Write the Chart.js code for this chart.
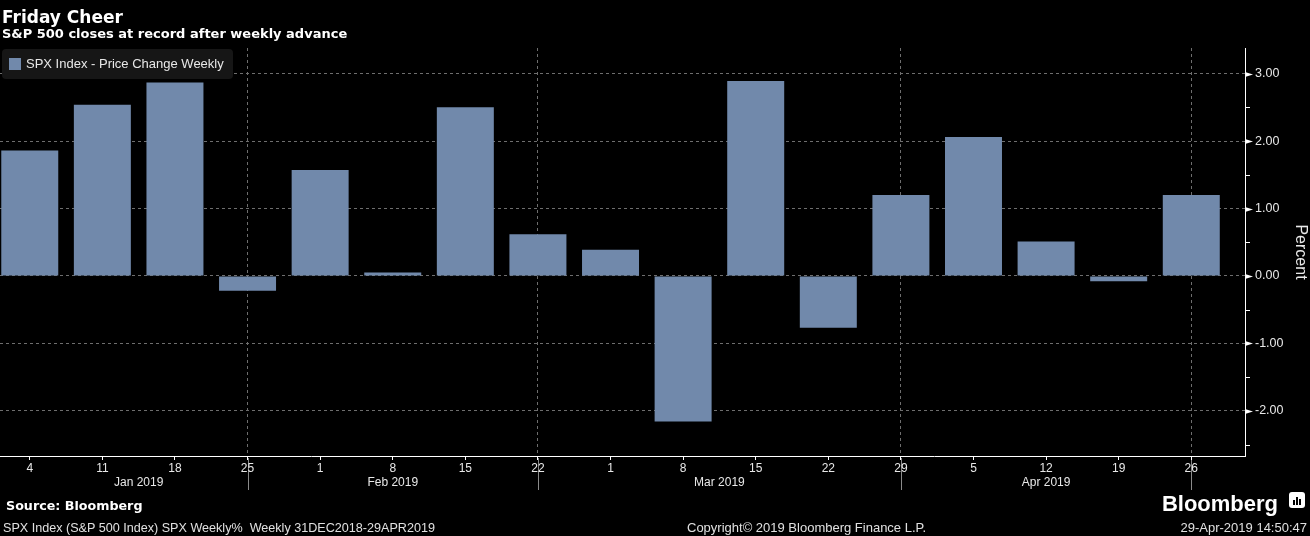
<!DOCTYPE html>
<html>
<head>
<meta charset="utf-8">
<title>Friday Cheer</title>
<script src="https://cdn.jsdelivr.net/npm/chart.js@4.4.1/dist/chart.umd.min.js"></script>
<style>
  body { margin: 0; background: #000; }
  #wrap { position: relative; width: 1310px; height: 536px; overflow: hidden; background: #000; color: #fff; }
  #chart { position: absolute; left: 0; top: 0; }
  .txt { position: absolute; white-space: nowrap; line-height: 1; }
  #title { left: 2px; top: 7px; font: bold 17px "DejaVu Sans", sans-serif; }
  #subtitle { left: 2px; top: 26px; font: bold 13px "DejaVu Sans", sans-serif; }
  #source { left: 6px; top: 498px; font: bold 12.7px "DejaVu Sans", sans-serif; }
  .foot { top: 520px; font: 13px "Liberation Sans", Arial, sans-serif; color: #e0e0e0; }
  #series { left: 3px; font-size: 12.6px; top: 521px; }
  #copyright { left: 687px; }
  #stamp { right: 3px; }
  #brand { right: 32px; top: 491px; font: bold 22px "Liberation Sans", Arial, sans-serif; }
  #brandIcon { position: absolute; left: 1289px; top: 492px; width: 16px; height: 16px; background: #fff; border-radius: 3px; }
  #brandIcon span { position: absolute; bottom: 3px; width: 2px; background: #000; }
</style>
</head>
<body>
<div id="wrap">
  <canvas id="chart" width="1310" height="536"></canvas>
  <div class="txt" id="title">Friday Cheer</div>
  <div class="txt" id="subtitle">S&amp;P 500 closes at record after weekly advance</div>
  <div class="txt" id="source">Source: Bloomberg</div>
  <div class="txt" id="brand">Bloomberg</div>
  <div id="brandIcon"><span style="left:4px;height:5px"></span><span style="left:7px;height:8px"></span><span style="left:10px;height:6px"></span></div>
  <div class="txt foot" id="series">SPX Index (S&amp;P 500 Index) SPX Weekly%&nbsp; Weekly 31DEC2018-29APR2019</div>
  <div class="txt foot" id="copyright">Copyright© 2019 Bloomberg Finance L.P.</div>
  <div class="txt foot" id="stamp">29-Apr-2019 14:50:47</div>
</div>
<script>
// weekly closes (Fridays), Jan - Apr 2019
const weekLabels = ['4', '11', '18', '25', '1', '8', '15', '22', '1', '8', '15', '22', '29', '5', '12', '19', '26'];
const changePct = [1.86, 2.54, 2.87, -0.22, 1.57, 0.05, 2.50, 0.62, 0.39, -2.16, 2.89, -0.77, 1.20, 2.06, 0.51, -0.08, 1.20];
const monthLabels = ['Jan 2019', 'Feb 2019', 'Mar 2019', 'Apr 2019'];
const monthEnds = [3, 7, 12, 16];   // week index where each month's separator sits
const yMajorTicks = [-2, -1, 0, 1, 2, 3];
const yMinorTicks = [-2.5, -1.5, -0.5, 0.5, 1.5, 2.5];
const seriesName = 'SPX Index - Price Change Weekly';

const barColor = '#7189ab';
const textColor = '#e8e8e8';
const gridColor = '#6e6e6e';
const fontFamily = '"Liberation Sans", Arial, sans-serif';

const decor = {
  id: 'decor',
  beforeDraw(chart) {
    const { ctx } = chart;
    const x = chart.scales.x;
    // month separators under the axis
    ctx.save();
    ctx.strokeStyle = '#8a8a8a';
    ctx.lineWidth = 1;
    monthEnds.forEach(i => {
      const px = Math.round(x.getPixelForValue(i)) + 0.5;
      ctx.beginPath();
      ctx.moveTo(px, x.top + 2);
      ctx.lineTo(px, x.top + 34);
      ctx.stroke();
    });
    ctx.restore();
  },
  afterDraw(chart) {
    const { ctx, chartArea } = chart;
    const x = chart.scales.x;
    const y = chart.scales.y;
    ctx.save();

    // y axis markers: arrows on majors, short ticks on minors
    ctx.fillStyle = '#fff';
    ctx.strokeStyle = '#fff';
    ctx.lineWidth = 1;
    yMajorTicks.forEach(v => {
      const py = Math.round(y.getPixelForValue(v)) + 0.5;
      ctx.beginPath();
      ctx.moveTo(y.left, py - 2.5);
      ctx.lineTo(y.left + 8, py);
      ctx.lineTo(y.left, py + 2.5);
      ctx.closePath();
      ctx.fill();
    });
    yMinorTicks.forEach(v => {
      const py = Math.round(y.getPixelForValue(v)) + 0.5;
      ctx.beginPath();
      ctx.moveTo(y.left, py);
      ctx.lineTo(y.left + 5, py);
      ctx.stroke();
    });

    // month labels, centred between separators
    ctx.fillStyle = textColor;
    ctx.font = '12px ' + fontFamily;
    ctx.textAlign = 'center';
    ctx.textBaseline = 'middle';
    let start = 0;
    monthLabels.forEach((m, k) => {
      const mid = (start + monthEnds[k]) / 2;
      ctx.fillText(m, x.getPixelForValue(mid), x.top + 27);
      start = monthEnds[k];
    });

    // legend box
    ctx.fillStyle = '#161616';
    ctx.beginPath();
    ctx.roundRect(chartArea.left + 2, chartArea.top + 1, 231, 30, 4);
    ctx.fill();
    ctx.fillStyle = barColor;
    ctx.fillRect(chartArea.left + 9, chartArea.top + 10, 12, 12);
    ctx.fillStyle = textColor;
    ctx.font = '13px ' + fontFamily;
    ctx.textAlign = 'left';
    ctx.fillText(seriesName, chartArea.left + 26, chartArea.top + 16.5);
    ctx.restore();
  }
};

new Chart(document.getElementById('chart'), {
  type: 'bar',
  data: {
    datasets: [{
      label: seriesName,
      data: changePct.map((v, i) => ({ x: i, y: v })),
      backgroundColor: barColor,
      borderWidth: 0,
      categoryPercentage: 1,
      barPercentage: 0.785
    }]
  },
  options: {
    responsive: false,
    animation: false,
    layout: { padding: { top: 48, left: 0, right: 0, bottom: 0 } },
    plugins: {
      legend: { display: false },
      tooltip: { enabled: false }
    },
    scales: {
      x: {
        type: 'linear',
        min: -0.41,
        max: 16.74,
        offset: false,
        afterBuildTicks: s => { s.ticks = weekLabels.map((_, i) => ({ value: i })); },
        afterFit: s => { s.height = 80; },
        ticks: {
          color: textColor,
          font: { family: fontFamily, size: 12 },
          padding: 1,
          maxRotation: 0,
          autoSkip: false,
          callback: v => weekLabels[v] ?? ''
        },
        grid: {
          offset: false,
          color: c => (c.tick && monthEnds.includes(c.tick.value)) ? gridColor : 'rgba(0,0,0,0)',
          tickColor: '#fff',
          tickLength: 4
        },
        border: { color: '#fff', width: 1, dash: [3, 3] }
      },
      y: {
        position: 'right',
        min: -2.67,
        max: 3.38,
        afterBuildTicks: s => { s.ticks = yMajorTicks.map(v => ({ value: v })); },
        afterFit: s => { s.width = 65; },
        ticks: {
          color: textColor,
          font: { family: fontFamily, size: 12.5 },
          padding: 10,
          callback: v => v.toFixed(2)
        },
        grid: { color: gridColor, drawTicks: false },
        border: { color: '#fff', width: 1, dash: [3, 3] },
        title: {
          display: true,
          text: 'Percent',
          color: textColor,
          font: { family: fontFamily, size: 16 },
          padding: 0
        }
      }
    }
  },
  plugins: [decor]
});
</script>
</body>
</html>
